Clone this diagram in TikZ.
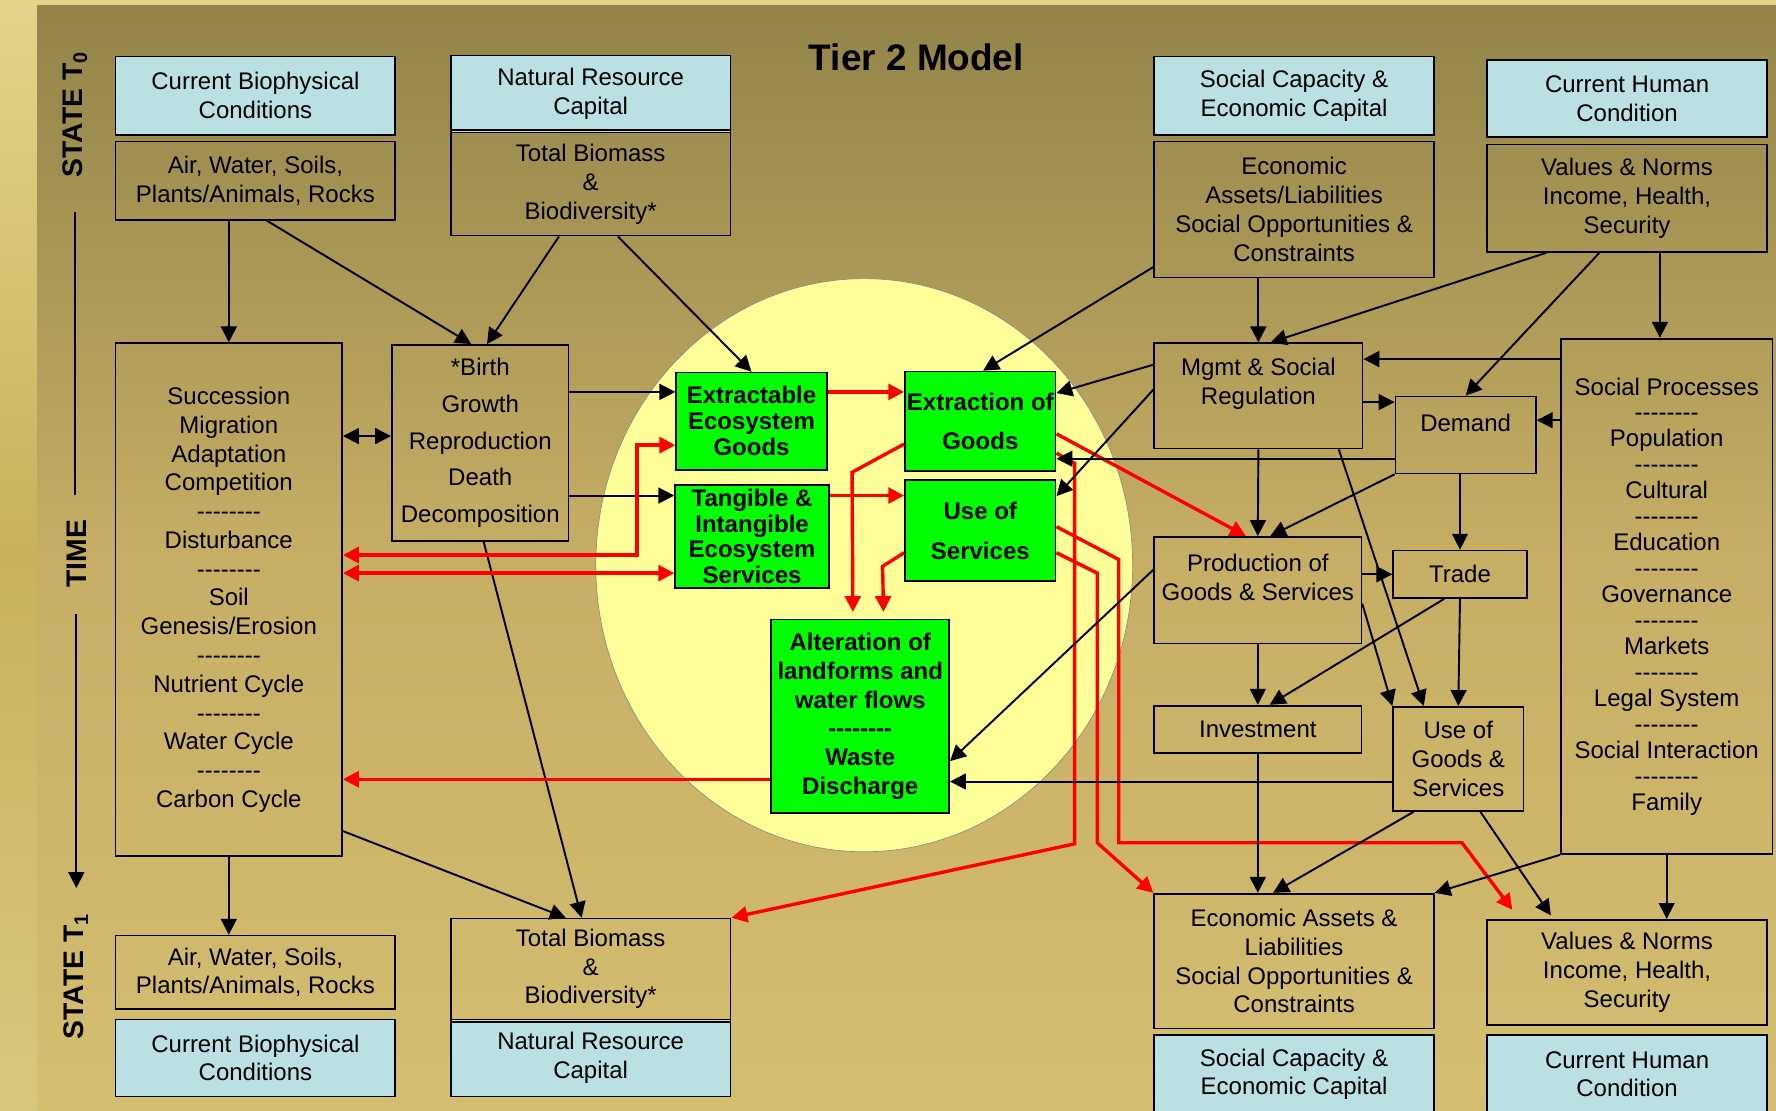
\documentclass[tikz,border=0pt]{standalone}
\usepackage{fontspec}
\setmainfont{Liberation Sans}
\usetikzlibrary{arrows.meta}
\definecolor{capblue}{HTML}{BBE0E3}
\definecolor{ecogreen}{HTML}{00FF00}
\definecolor{flowred}{HTML}{FF0000}
\definecolor{lensyellow}{HTML}{FFFF99}
\definecolor{paneltop}{HTML}{928449}
\definecolor{panelmid}{HTML}{C6AE64}
\definecolor{panelbot}{HTML}{D4BE70}
\definecolor{edgetop}{HTML}{E3D488}
\definecolor{edgemid}{HTML}{C9B15C}
\definecolor{edgebot}{HTML}{D8C87E}
\newcommand\sepline{\hbox{-}\hbox{-}\hbox{-}\hbox{-}\hbox{-}\hbox{-}\hbox{-}\hbox{-}}
\tikzset{
  wh/.style 2 args={minimum width=#1*0.5pt, minimum height=#2*0.5pt},
  tanbox/.style={draw, line width=0.75pt, inner sep=0pt, align=center,
    font=\fontsize{10.6}{#1}\selectfont},
  tanbox/.default=12.7pt,
  capbox/.style={tanbox, fill=capblue},
  ecobox/.style={draw, line width=0.75pt, inner sep=0pt, align=center,
    fill=ecogreen, font=\bfseries\fontsize{10.6}{#1}\selectfont},
  ecobox/.default=11.5pt,
  boxtext/.style={inner sep=0pt, align=center, font=\fontsize{10.6}{12.7}\selectfont},
  axislabel/.style={rotate=90, anchor=base, inner sep=0pt,
    font=\bfseries\fontsize{12.5}{15}\selectfont},
  link/.style={-{Triangle[length=7pt,width=7pt]}, line width=0.85pt},
  linkboth/.style={link, {Triangle[length=7pt,width=7pt]}-{Triangle[length=7pt,width=7pt]}},
  flow/.style={-{Triangle[length=7pt,width=7pt]}, line width=1.5pt, draw=flowred},
  flowboth/.style={flow, {Triangle[length=7pt,width=7pt]}-{Triangle[length=7pt,width=7pt]}},
}
\begin{document}
\begin{tikzpicture}[x=0.5pt, y=-0.5pt]
\useasboundingbox (0,0) rectangle (1568,980);
\clip (0,0) rectangle (1568,980);
\shade[top color=edgetop, bottom color=edgebot, middle color=edgemid] (0,0) rectangle (1568,980);
\shade[top color=paneltop, bottom color=panelbot, middle color=panelmid] (33,5) rectangle (1568,980);
\draw[fill=lensyellow, draw=black!45, line width=0.3pt] (763,499) ellipse [x radius=237, y radius=253];

\node[font=\bfseries\fontsize{16.3}{19}\selectfont] (title) at (809,51) {Tier 2 Model};

% time axis
\node[axislabel] (st0) at (73,101) {STATE T\textsubscript{0}};
\node[axislabel] (time) at (76,489) {TIME};
\node[axislabel] (st1) at (74,862) {STATE T\textsubscript{1}};
\draw[line width=0.85pt] ([yshift=-15pt]st0.west) -- ([yshift=11pt]time.east -| st0.west);
\draw[link] ([yshift=-11.5pt]time.west) -- ([yshift=11pt]st1.east -| time.west);

% state T0
\node[capbox, wh={247}{69}] (cbcT) at (225.5,84.5) {Current Biophysical\\Conditions};
\node[tanbox, wh={247}{69}] (airT) at (225.5,159.5) {Air, Water, Soils,\\Plants/Animals, Rocks};
\node[capbox, wh={247}{68}] (nrcT) at (521.5,83) {Natural Resource\\Capital};
\node[tanbox, wh={247}{91}] (bioT) at (521.5,162.5) {Total Biomass\\\&\\Biodiversity*};
\draw[line width=0.75pt] ([yshift=1.5pt]nrcT.south west) -- ([yshift=1.5pt]nrcT.south east);
\node[capbox, wh={247}{69}] (scT) at (1142.5,84.5) {Social Capacity \&\\Economic Capital};
\node[tanbox, wh={247}{120}] (ecoT) at (1142.5,185) {Economic\\Assets/Liabilities\\Social Opportunities \&\\Constraints};
\node[capbox, wh={247}{68}] (hcT) at (1436.5,87) {Current Human\\Condition};
\node[tanbox, wh={247}{95}] (valT) at (1436.5,175) {Values \& Norms\\Income, Health,\\Security};

% processes
\node[tanbox, wh={200}{453}] (proc) at (202,529.5) {Succession\\Migration\\Adaptation\\Competition\\\sepline\\Disturbance\\\sepline\\Soil\\Genesis/Erosion\\\sepline\\Nutrient Cycle\\\sepline\\Water Cycle\\\sepline\\Carbon Cycle};
\node[tanbox=16.25pt, wh={156}{173}] (birth) at (424,391) {*Birth\\Growth\\Reproduction\\Death\\Decomposition};
\node[ecobox, wh={133}{86}] (exg) at (663.5,372) {Extractable\\Ecosystem\\Goods};
\node[ecobox=11.25pt, wh={136}{91}] (tis) at (664,473.5) {Tangible \&\\Intangible\\Ecosystem\\Services};
\node[ecobox=17.5pt, wh={133}{88}] (exo) at (865.5,372) {Extraction of\\Goods};
\node[ecobox=17.5pt, wh={133}{89}] (uos) at (865.5,468.5) {Use of\\Services};
\node[ecobox=12.7pt, wh={157}{171}] (alt) at (759.5,632.5) {Alteration of\\landforms and\\water flows\\\sepline\\Waste\\Discharge};

\node[tanbox, wh={184}{93}] (mgmt) at (1111,349.5) {};
\node[boxtext] (mgmtT) at (1111,339) {Mgmt \& Social\\Regulation};
\node[tanbox, wh={124}{68}] (dem) at (1294,384) {};
\node[boxtext] (demT) at (1294,373) {Demand};
\node[tanbox=11.45pt, wh={187}{455}] (sp) at (1471.5,526.5) {Social Processes\\\sepline\\Population\\\sepline\\Cultural\\\sepline\\Education\\\sepline\\Governance\\\sepline\\Markets\\\sepline\\Legal System\\\sepline\\Social Interaction\\\sepline\\Family};
\node[tanbox, wh={183}{94}] (prod) at (1110.5,521) {};
\node[boxtext] (prodT) at (1110.5,509.5) {Production of\\Goods \& Services};
\node[tanbox, wh={118}{42}] (trade) at (1289,507) {Trade};
\node[tanbox, wh={183}{42}] (inv) at (1110.5,644) {Investment};
\node[tanbox, wh={115}{92}] (ugs) at (1287.5,670) {Use of\\Goods \&\\Services};

% state T1
\node[tanbox, wh={247}{65}] (airB) at (225.5,858.5) {Air, Water, Soils,\\Plants/Animals, Rocks};
\node[capbox, wh={247}{68}] (cbcB) at (225.5,934) {Current Biophysical\\Conditions};
\node[tanbox, wh={247}{89}] (bioB) at (521.5,855.5) {Total Biomass\\\&\\Biodiversity*};
\node[capbox, wh={247}{68}] (nrcB) at (521.5,934) {Natural Resource\\Capital};
\draw[line width=0.75pt] ([yshift=-1.5pt]nrcB.north west) -- ([yshift=-1.5pt]nrcB.north east);
\node[tanbox, wh={247}{119}] (ecoB) at (1142.5,848.5) {Economic Assets \&\\Liabilities\\Social Opportunities \&\\Constraints};
\node[capbox, wh={247}{69}] (scB) at (1142.5,948.5) {Social Capacity \&\\Economic Capital};
\node[tanbox, wh={247}{93}] (valB) at (1436.5,858.5) {Values \& Norms\\Income, Health,\\Security};
\node[capbox, wh={247}{69}] (hcB) at (1436.5,948.5) {Current Human\\Condition};

% biophysical links
\draw[link] (proc.north |- airT.south) -- (proc.north);
\draw[link] ([xshift=5pt]airT.south) -- ([xshift=-4pt]birth.north);
\draw[link] ([xshift=-14pt]bioT.south) -- ([xshift=3pt]birth.north);
\draw[link] ([xshift=12pt]bioT.south) -- (exg.north);
\draw[linkboth] ([yshift=3pt]birth.west -| proc.east) -- ([yshift=3pt]birth.west);
\draw[link] ([yshift=13pt]exg.west -| birth.east) -- ([yshift=13pt]exg.west);
\draw[link] ([yshift=18pt]tis.west -| birth.east) -- ([yshift=18pt]tis.west);
\draw[link] ([xshift=1.5pt]birth.south) -- ([xshift=-4pt]bioB.north);
\draw[link] ([yshift=11.5pt]proc.south east) -- ([xshift=-11pt]bioB.north);
\draw[link] (proc.south) -- (proc.south |- airB.north);

% red flows
\draw[flow] ([yshift=13pt]exg.east) -- ([yshift=13pt]exg.east -| exo.west);
\draw[flow] ([yshift=18pt]tis.east) -- ([yshift=18pt]tis.east -| uos.west);
\draw[flowboth] ([yshift=19.75pt]proc.east) -| ([xshift=-17pt,yshift=-10.5pt]exg.west) -- ([yshift=-10.5pt]exg.west);
\draw[flowboth] ([yshift=-16.25pt]tis.west -| proc.east) -- ([yshift=-16.25pt]tis.west);
\draw[flow] ([yshift=-27.75pt]alt.west) -- ([yshift=-27.75pt]alt.west -| proc.east);
\draw[flow] ([yshift=-10pt]exo.west) -- ++(-46,25) -- ([xshift=-3.25pt,yshift=3pt]alt.north);
\draw[flow] ([yshift=-9.75pt]uos.west) -- ++(-19,12) -- ([xshift=10.25pt,yshift=3pt]alt.north);
\draw[flow] ([yshift=-5.5pt]exo.east) -- ([xshift=-5.25pt]prod.north);
\draw[flow] ([yshift=-14pt]exo.east) -- ++(16,9) -- ++(0,336) -- (bioB.north east);
\draw[flow] ([yshift=1.75pt]uos.east) -- ++(55,29) -- ++(0,250) -- ++(303,0) -- ([xshift=11.5pt,yshift=4pt]valB.north west);
\draw[flow] ([yshift=-9.75pt]uos.east) -- ++(36,18) -- ++(0,238) -- (ecoB.north west);

% social links
\draw[link] ([yshift=5pt]ecoT.south west) -- ([xshift=1.25pt]exo.north);
\draw[link] ([yshift=13.75pt]mgmt.west) -- ([yshift=12.5pt]exo.east);
\draw[link] ([yshift=2.75pt]mgmt.west) -- ([yshift=15.25pt]uos.east);
\draw[link] ([yshift=-10.5pt]dem.west) -- ([yshift=-10.5pt]dem.west -| exo.east);
\draw[link] ([yshift=9pt]prod.west) -- ([yshift=-19.75pt]alt.east);
\draw[link] ([yshift=-10pt]ugs.west) -- ([yshift=-10pt]ugs.west -| alt.east);
\draw[link] (mgmt.north |- ecoT.south) -- (mgmt.north);
\draw[link] ([xshift=-35.75pt]valT.south) -- ([xshift=5.5pt]mgmt.north);
\draw[link] ([xshift=-12.25pt]valT.south) -- (dem.north);
\draw[link] ([xshift=-3pt]sp.north |- valT.south) -- ([xshift=-3pt]sp.north);
\draw[link] ([yshift=16.25pt]mgmt.east -| sp.west) -- ([yshift=16.25pt]mgmt.east);
\draw[link] ([yshift=6.5pt]dem.east -| sp.west) -- ([yshift=6.5pt]dem.east);
\draw[link] ([yshift=-2.75pt]mgmt.east) -- ([yshift=-2.75pt]mgmt.east -| dem.west);
\draw[link] (dem.south west) -- ([xshift=5.5pt]prod.north);
\draw[link] (trade.north |- dem.south) -- (trade.north);
\draw[link] ([xshift=35.5pt]mgmt.south) -- ([xshift=-15.25pt]ugs.north);
\draw[link] (trade.west -| prod.east) -- (trade.west);
\draw[link] ([yshift=-6pt]prod.east) -- (ugs.north west);
\draw[link] ([xshift=-7pt]trade.south) -- ([xshift=5.25pt]inv.north);
\draw[link] (inv.south) -- (inv.south |- ecoB.north);
\draw[link] ([xshift=-19.75pt]ugs.south) -- ([xshift=-9.25pt]ecoB.north);
\draw[link] ([xshift=9.75pt]ugs.south) -- ([xshift=28.5pt,yshift=1.5pt]valB.north west);
\draw[link] (sp.south) -- (sp.south |- valB.north);
\foreach \a/\b in {mgmt.south/prod.north, prod.south/inv.north, trade.south/ugs.north, sp.south west/ecoB.north east}
  \draw[link] (\a) -- (\b);
\end{tikzpicture}
\end{document}
